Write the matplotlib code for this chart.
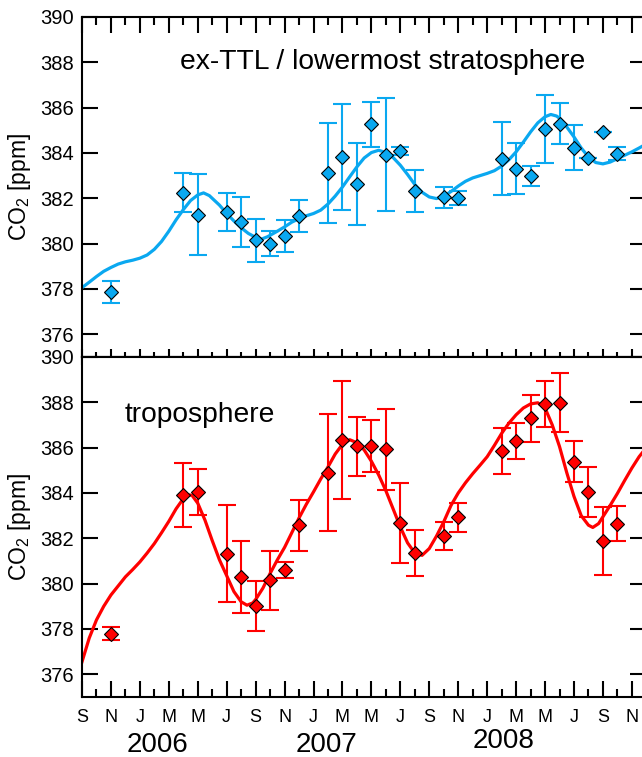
import numpy as np
import matplotlib.pyplot as plt
from matplotlib.ticker import MultipleLocator, NullFormatter
import matplotlib.transforms as mtransforms

plt.rcParams['font.family'] = ['Liberation Sans', 'DejaVu Sans']
plt.rcParams['mathtext.fontset'] = 'custom'
plt.rcParams['mathtext.rm'] = 'Liberation Sans'
plt.rcParams['mathtext.it'] = 'Liberation Sans:italic'

# x = months since Sep 2005
month_letters = ['S', 'N', 'J', 'M', 'M', 'J'] * 3 + ['S', 'N']
years = ['2006', '2007', '2008']
year_pos = [5.2, 16.9, 29.1]

# ex-TTL / lowermost stratosphere
strat_t = [2, 7, 8, 10, 11, 12, 13, 14, 15, 17, 18, 19, 20, 21, 22, 23, 25, 26,
           29, 30, 31, 32, 33, 34, 35, 36, 37]
strat_co2 = [377.87, 382.24, 381.28, 381.39, 380.96, 380.15, 379.99, 380.34, 381.21,
             383.13, 383.83, 382.64, 385.27, 383.93, 384.09, 382.31, 382.04, 382.02,
             383.75, 383.30, 382.99, 385.08, 385.30, 384.24, 383.79, 384.91, 383.97]
strat_err = [0.5, 0.86, 1.8, 0.85, 1.1, 0.95, 0.55, 0.72, 0.7,
             2.2, 2.35, 1.8, 1.0, 2.5, 0.17, 0.92, 0.45, 0.32,
             1.6, 1.12, 0.45, 1.5, 0.9, 1.0, 0.0, 0.0, 0.3]
strat_fit_t = [0, 0.5, 1, 1.5, 2, 2.5, 3, 3.5, 4, 4.5, 5, 5.5, 6, 6.5, 7, 7.5, 8,
               8.4, 8.8, 9, 9.5, 10, 10.5, 11, 11.5, 12, 12.4, 12.8, 13, 13.5, 14,
               14.5, 15, 15.5, 16, 16.5, 17, 17.5, 18, 18.5, 19, 19.5, 20, 20.5, 21,
               21.5, 22, 22.5, 23, 23.5, 24, 24.5, 25, 25.5, 26, 26.5, 27, 27.5, 28,
               28.5, 29, 29.5, 30, 30.5, 31, 31.5, 32, 32.4, 32.8, 33, 33.5, 34,
               34.5, 35, 35.5, 36, 36.5, 37, 37.5, 38, 38.5, 39]
strat_fit = [378.06, 378.3, 378.55, 378.78, 378.95, 379.1, 379.2, 379.27, 379.36,
             379.5, 379.75, 380.1, 380.55, 381.05, 381.5, 381.9, 382.15, 382.24,
             382.12, 382.0, 381.7, 381.33, 381.0, 380.7, 380.45, 380.28, 380.2,
             380.3, 380.37, 380.55, 380.74, 380.95, 381.1, 381.23, 381.33, 381.48,
             381.75, 382.1, 382.5, 382.95, 383.39, 383.78, 384.02, 384.12, 384.02,
             383.8, 383.46, 383.05, 382.61, 382.27, 382.06, 381.99, 382.1, 382.3,
             382.54, 382.75, 382.9, 383.0, 383.1, 383.22, 383.42, 383.7, 384.05,
             384.48, 384.93, 385.33, 385.6, 385.7, 385.63, 385.53, 385.15, 384.71,
             384.22, 383.83, 383.58, 383.52, 383.6, 383.75, 383.9, 384.05, 384.22,
             384.4]

# troposphere
trop_t = [2, 7, 8, 10, 11, 12, 13, 14, 15, 17, 18, 19, 20, 21, 22, 23, 25, 26,
          29, 30, 31, 32, 33, 34, 35, 36, 37]
trop_co2 = [377.79, 383.90, 384.05, 381.33, 380.30, 379.00, 380.15, 380.59, 382.58,
            384.89, 386.33, 386.07, 386.07, 385.92, 382.68, 381.36, 382.11, 382.92,
            385.86, 386.30, 387.29, 387.92, 387.98, 385.38, 384.05, 381.89, 382.65]
trop_err = [0.28, 1.42, 1.03, 2.15, 1.6, 1.1, 1.3, 0.35, 1.13,
            2.58, 2.6, 1.3, 1.15, 1.78, 1.77, 1.0, 0.62, 0.63,
            1.0, 0.8, 1.03, 1.0, 1.3, 0.9, 1.1, 1.5, 0.77]
trop_fit_t = [0, 0.5, 1, 1.5, 2, 2.5, 3, 3.5, 4, 4.5, 5, 5.5, 6, 6.5, 7, 7.3, 7.6,
              8, 8.5, 9, 9.5, 10, 10.5, 11, 11.4, 11.8, 12, 12.5, 13, 13.5, 14,
              14.5, 15, 15.5, 16, 16.5, 17, 17.5, 18, 18.5, 19, 19.5, 20, 20.5, 21,
              21.5, 22, 22.5, 23, 23.5, 24, 24.5, 25, 25.5, 26, 26.5, 27, 27.5, 28,
              28.5, 29, 29.5, 30, 30.5, 31, 31.5, 32, 32.5, 33, 33.5, 34, 34.5, 35,
              35.3, 35.7, 36, 36.5, 37, 37.5, 38, 38.5, 39]
trop_fit = [376.55, 377.6, 378.4, 379.0, 379.5, 379.9, 380.3, 380.62, 380.96,
            381.35, 381.77, 382.25, 382.75, 383.3, 383.75, 383.92, 383.9, 383.55,
            382.8, 381.9, 381.05, 380.35, 379.65, 379.2, 379.05, 379.15, 379.3,
            379.8, 380.45, 381.05, 381.6, 382.25, 382.9, 383.5, 384.05, 384.62,
            385.15, 385.72, 386.15, 386.35, 386.22, 385.9, 385.4, 384.8, 384.1,
            383.3, 382.5, 381.8, 381.35, 381.25, 381.55, 382.1, 382.73, 383.45,
            384.0, 384.45, 384.85, 385.22, 385.6, 386.1, 386.63, 387.08, 387.45,
            387.75, 387.93, 387.98, 387.75, 387.0, 386.05, 384.9, 383.85, 383.0,
            382.58, 382.48, 382.65, 382.95, 383.45, 383.98, 384.55, 385.1, 385.6,
            386.0]

blue = '#0aa8f0'
red = '#ff0000'

fig = plt.figure(figsize=(6.42, 7.57), dpi=100)
W, H = 642, 757
left = 82 / W
width = 39 * 14.47 / W
ax1 = fig.add_axes([left, 1 - 357 / H, width, 340 / H])
ax2 = fig.add_axes([left, 1 - 697 / H, width, 340 / H])

panels = [
    (ax1, strat_t, strat_co2, strat_err, strat_fit_t, strat_fit, blue,
     'ex-TTL / lowermost stratosphere', 0.174, 0.868),
    (ax2, trop_t, trop_co2, trop_err, trop_fit_t, trop_fit, red,
     'troposphere', 0.076, 0.829),
]

for ax, t, v, e, ft, fv, col, name, tx, ty in panels:
    ax.plot(ft, fv, color=col, lw=2.3, solid_joinstyle='round', zorder=2)
    ax.errorbar(t, v, yerr=e, fmt='none', ecolor=col, elinewidth=1.5,
                capsize=6.5, capthick=1.5, zorder=3)
    ax.plot(t, v, 'D', ms=7.6, mfc=col, mec='black', mew=0.8, zorder=4)
    ax.set_xlim(0, 39)
    ax.set_ylim(375, 390)
    ax.yaxis.set_major_locator(MultipleLocator(2))
    ax.xaxis.set_major_locator(MultipleLocator(2))
    ax.xaxis.set_minor_locator(MultipleLocator(1))
    for s in ax.spines.values():
        s.set_linewidth(1.5)
    ax.tick_params(which='both', direction='in', width=1.5, right=True,
                   labelsize=14.5, pad=6)
    ax.tick_params(which='major', length=11.5)
    ax.tick_params(which='minor', length=5.8)
    ax.set_ylabel('CO$_2$ [ppm]', fontsize=16.5)
    ax.yaxis.set_label_coords(-0.086, 0.5)
    ax.text(tx, ty, name, transform=ax.transAxes, fontsize=20.3,
            ha='left', va='center')

# shared boundary between panels: short ticks crossing the line
ax1.tick_params(axis='x', which='both', top=True, bottom=False, labelbottom=False)
sec = ax1.secondary_xaxis('bottom')
sec.xaxis.set_major_locator(MultipleLocator(2))
sec.xaxis.set_minor_locator(MultipleLocator(1))
sec.xaxis.set_major_formatter(NullFormatter())
sec.tick_params(which='both', direction='inout', width=1.5)
sec.tick_params(which='major', length=11.5)
sec.tick_params(which='minor', length=7)
sec.spines['bottom'].set_linewidth(1.5)
ax2.tick_params(axis='x', which='both', top=False)

ax2.set_xticks(np.arange(0, 39, 2))
ax2.set_xticklabels(month_letters)
ax2.tick_params(axis='x', labelsize=13, pad=9)

trans = mtransforms.blended_transform_factory(ax2.transData, fig.transFigure)
for yr, xp, yy in zip(years, year_pos, [745, 745, 740.5]):
    fig.text(xp, 1 - yy / H, yr, transform=trans, fontsize=20,
             ha='center', va='center')

fig.savefig('out.png', dpi=100)
